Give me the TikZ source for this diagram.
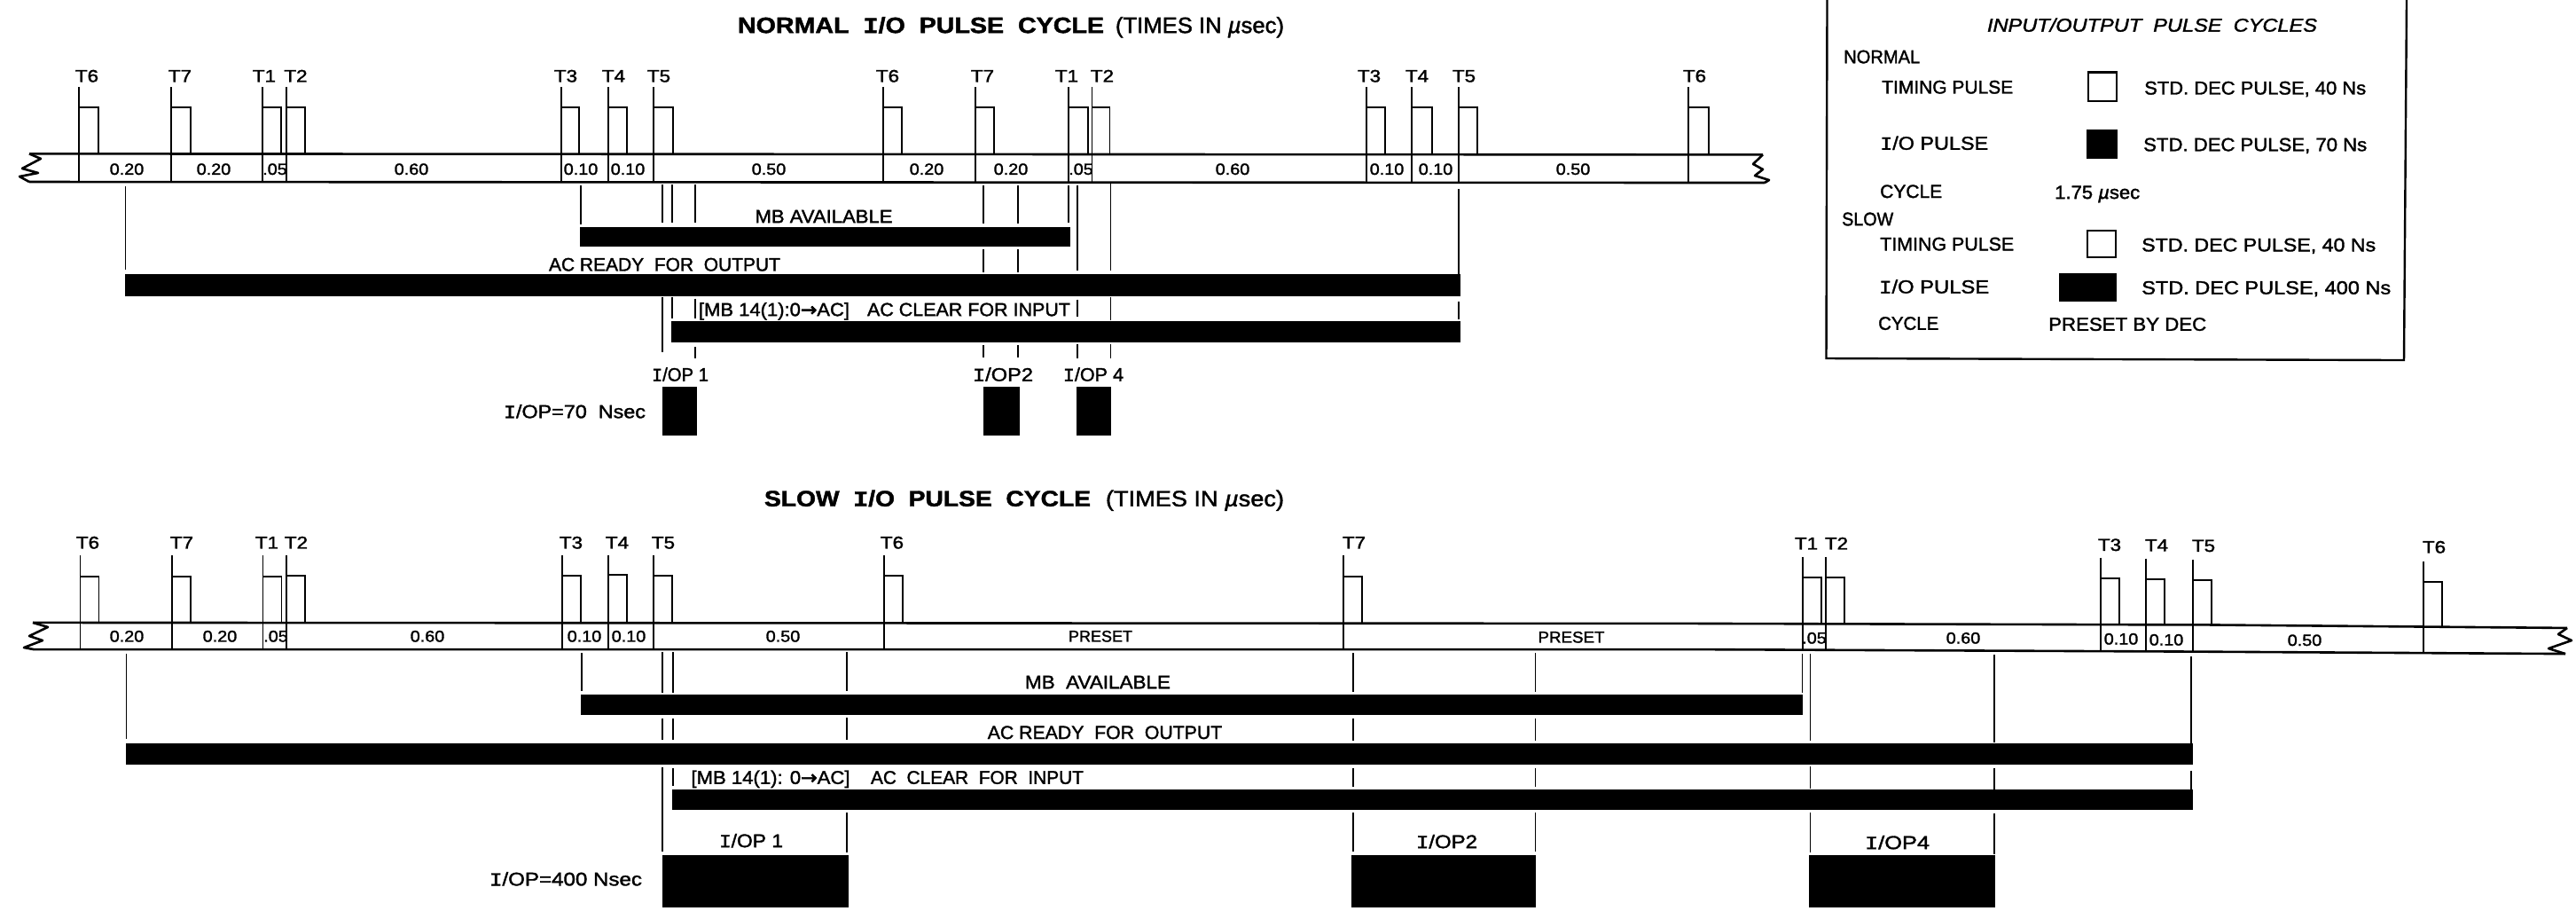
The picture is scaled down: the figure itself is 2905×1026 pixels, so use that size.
\documentclass[tikz,border=0pt]{standalone}
\usepackage{fontspec}
\usepackage{graphicx}
\setmainfont[FakeBold=1.6]{Liberation Sans}
\newfontfamily\ifam[FakeBold=1.6]{Liberation Mono}
\newfontfamily\arrfam[FakeBold=3]{DejaVu Sans}
\newcommand\II{{\ifam I}}
\newcommand\Arr{{\arrfam →}}
\newsavebox\wtbox
\newcommand\wt[2]{\sbox\wtbox{#2}\pgfmathsetmacro\wtsc{#1/\the\wd\wtbox}\scalebox{\wtsc}[1]{\usebox\wtbox}}
\newcommand\pulse[6]{% x, ticktop, pulsetop, pulse bottom, tick bottom, width
  \draw[tick] (#1,#2) -- (#1,#5);
  \draw[tick] (#1,#4) -- (#1,#3) -- ++(#6,0) -- (#1+#6,#4);
  \draw[ptop] (#1,#3) -- ++(#6,0);
}
\tikzset{
  tick/.style={line width=1.7pt,draw=black},
  ptop/.style={line width=2.2pt,draw=black},
  band/.style={line width=2.6pt,draw=black,line join=round},
  frame/.style={line width=2.4pt,draw=black,line join=miter},
  solid bar/.style={fill=black,draw=none},
  tl/.style={inner sep=0pt,text height=14pt,text depth=0pt,font=\fontsize{19.5}{20}\selectfont},
  nl/.style={inner sep=0pt,text height=13pt,text depth=0pt,font=\fontsize{18}{20}\selectfont},
  ll/.style={inner sep=0pt,text height=15pt,text depth=0pt,font=\fontsize{21}{22}\selectfont},
  ti/.style={inner sep=0pt,text height=18pt,text depth=0pt,font=\fontsize{25}{26}\selectfont\bfseries},
  tb/.style={inner sep=0pt,text height=18pt,text depth=0pt,font=\fontsize{25}{26}\selectfont},
}
\begin{document}
\begin{tikzpicture}[x=1pt,y=-1.005pt]
\useasboundingbox (0pt,0pt) rectangle (2905pt,-1026pt);
\fill[white] (0pt,0pt) rectangle (2905pt,-1026pt);

%% ---------- NORMAL ----------
\node[ti] (ntitle) at (1038.5,28) {\wt{413}{NORMAL\ \ \II/O\ \ PULSE\ \ CYCLE}};
\node[tb] (ntimes) at (1353,28) {\wt{190}{(TIMES IN {\itshape µ}sec)}};

\draw[band] (33,172.5) -- (1988,173.5);
\draw[band] (33,204) -- (1990,205);
\draw[band] (33,172.5) -- (46,178) -- (25,189) -- (43,194) -- (22,198) -- (33,204);
\draw[band] (1988,173.5) -- (1977,184) -- (1988,190) -- (1979,197) -- (1995,202) -- (1990,205);

\foreach \x/\w in {89/22,193/22,296/21,323/21,633/20,686/21,737/22,996/21,1100/21,1205/22,1231.5/20,1541/21,1592/23,1645/21,1904/23}{
  \pulse{\x}{98}{120}{173}{204}{\w}
}
\foreach \n/\x/\t in {a/98/T6,b/203/T7,c/298/T1,d/333.5/T2,e/638/T3,f/692/T4,g/743/T5,h/1001/T6,i/1108/T7,j/1203/T1,k/1243/T2,l/1544/T3,m/1598/T4,o/1651/T5,p/1911/T6}{
  \node[tl] (nt\n) at (\x,85) {\scalebox{1.15}[1]{\t}};
}
\foreach \n/\x/\t in {a/143/0.20,b/241/0.20,c/310/.05,d/464/0.60,e/655/0.10,f/708/0.10,g/867/0.50,h/1045/0.20,i/1140/0.20,j/1219/.05,k/1390/0.60,l/1564/0.10,m/1619/0.10,o/1774/0.50}{
  \node[nl] (nn\n) at (\x,189.5) {\scalebox{1.1}[1]{\t}};
}

% bars
\fill[solid bar] (654,255) rectangle (1207,277);
\fill[solid bar] (141,307) rectangle (1647,332);
\fill[solid bar] (757,360) rectangle (1647,384);
\fill[solid bar] (747,434) rectangle (786,489);
\fill[solid bar] (1109,434) rectangle (1150,489);
\fill[solid bar] (1214,434) rectangle (1253,489);

% verticals
\foreach \x/\a/\b in {
 141.5/209/302, 655/208/252, 747/207/250, 758/207/250, 784/207/250,
 1109/208/251, 1148/208/251, 1205/208/250, 1215/208/303, 1252.5/206/303, 1645/212/307,
 1109/280/305, 1148/280/305,
 747/333/395, 758/333/357.5, 784/335/357.5, 1215/336/355.5, 1252.5/333/359, 1645/338/358,
 784/389/402, 1109/387/400.5, 1148/387/400.5, 1215/386/402, 1252.5/386/402}{
  \draw[tick] (\x,\a) -- (\x,\b);
}

\node[ll] (nmb) at (929,242.5) {\wt{155}{MB AVAILABLE}};
\node[ll] (nac) at (749.5,296.5) {\wt{261}{AC READY\ \ FOR\ \ OUTPUT}};
\node[ll] (nmbx) at (873,347) {\wt{170}{[MB 14(1):0\Arr AC]}};
\node[ll] (ncl) at (1092.5,347) {\wt{229}{AC CLEAR FOR INPUT}};
\node[ll] (niop1) at (767,420) {\wt{64}{\II/OP 1}};
\node[ll] (niop2) at (1131,420) {\wt{68}{\II/OP2}};
\node[ll] (niop4) at (1233,420) {\wt{68}{\II/OP 4}};
\node[ll] (nioeq) at (648,461.5) {\wt{160}{\II/OP=70\ \ Nsec}};

%% ---------- LEGEND ----------
\draw[frame] (2060.5,0) -- (2059.5,402) -- (2711,404) -- (2714,0);
\node[ll,font=\fontsize{21}{22}\selectfont\itshape] (lgt) at (2427,28) {\wt{372}{INPUT/OUTPUT\ \ PULSE\ \ CYCLES}};
\node[ll,anchor=west] (lnorm) at (2079,63.5) {\wt{86}{NORMAL}};
\node[ll,anchor=west] (ltp1) at (2122,97.5) {\wt{148}{TIMING PULSE}};
\node[ll,anchor=west] (lio1) at (2120,160.5) {\wt{122}{\II/O PULSE}};
\node[ll,anchor=west] (lcy1) at (2120,214.5) {\wt{70}{CYCLE}};
\node[ll,anchor=west] (lslow) at (2077,245.5) {\wt{58}{SLOW}};
\node[ll,anchor=west] (ltp2) at (2120,273.5) {\wt{151}{TIMING PULSE}};
\node[ll,anchor=west] (lio2) at (2119,321.5) {\wt{124}{\II/O PULSE}};
\node[ll,anchor=west] (lcy2) at (2118,362.5) {\wt{68}{CYCLE}};
\node[ll,anchor=west] (ls1) at (2418,98.5) {\wt{250}{STD. DEC PULSE, 40 Ns}};
\node[ll,anchor=west] (ls2) at (2417,162) {\wt{252}{STD. DEC PULSE, 70 Ns}};
\node[ll,anchor=west] (lv) at (2317,215.5) {\wt{96}{1.75 {\itshape µ}sec}};
\node[ll,anchor=west] (ls3) at (2415,274.5) {\wt{264}{STD. DEC PULSE, 40 Ns}};
\node[ll,anchor=west] (ls4) at (2415,322.5) {\wt{281}{STD. DEC PULSE, 400 Ns}};
\node[ll,anchor=west] (lp) at (2310,363.5) {\wt{178}{PRESET BY DEC}};
\draw[line width=2.2pt] (2355,81) rectangle (2387,113.5);
\fill[solid bar] (2353,145) rectangle (2388,178);
\draw[line width=2.2pt] (2354,259) rectangle (2386,288.5);
\fill[solid bar] (2322,306) rectangle (2387,338);

%% ---------- SLOW ----------
\begin{scope}[yshift=2.6pt]
\node[ti] (stitle) at (1046,561.5) {\wt{368}{SLOW\ \ \II/O\ \ PULSE\ \ CYCLE}};
\node[tb] (stimes) at (1347.5,561.5) {\wt{201}{(TIMES IN {\itshape µ}sec)}};

\draw[band] (37,701) -- (1905,702) -- (2490,703.5) -- (2895,707);
\draw[band] (38,731) -- (1905,731) -- (2470,733.5) -- (2893,736);
\draw[band] (37,701) -- (54,706) -- (33,716) -- (48,721) -- (27,729) -- (38,731);
\draw[band] (2895,707) -- (2885,714) -- (2900,721) -- (2874,730) -- (2893,736);

\foreach \x/\tp/\pt/\bt/\bb in {90.5/625.5/649/701/731,194/625.5/649/701/731,296.5/625.5/649/701/731,323/625.5/648/701/731,634/625/648/701/731,686/625/647/701/731,737/625/648/701/731,997/625/648/701/731,1515/625/649/702/731,2033/627/650/702/731,2059/627/650/702/731,2369/628/651.5/703/733,2420/629/652.5/703/733,2473/630/653/703/734,2733/632/655/705/735}{
  \pulse{\x}{\tp}{\pt}{\bt}{\bb}{21}
}
\foreach \n/\x/\y/\t in {a/99/611/T6,b/205/611/T7,c/301/611/T1,d/334/611/T2,e/644/611/T3,f/696/611/T4,g/748/611/T5,h/1006/611/T6,i/1527/611/T7,j/2037/612/T1,k/2071/612/T2,l/2379/613.5/T3,m/2432/614/T4,o/2485/614.5/T5,p/2745/616/T6}{
  \node[tl] (st\n) at (\x,\y) {\scalebox{1.15}[1]{\t}};
}
\foreach \n/\x/\y/\t in {a/143/716/0.20,b/248/716/0.20,c/311/716/.05,d/482/716/0.60,e/659/716/0.10,f/709/716/0.10,g/883/716/0.50,j/2046/718/.05,k/2214/718/0.60,l/2392/719/0.10,m/2443/720/0.10,o/2599/720.5/0.50}{
  \node[nl] (sn\n) at (\x,\y) {\scalebox{1.1}[1]{\t}};
}
\node[nl] (snh) at (1241,716) {\wt{72}{PRESET}};
\node[nl] (sni) at (1772,717) {\wt{75}{PRESET}};

\fill[solid bar] (655,782) rectangle (2033,805);
\fill[solid bar] (142,836) rectangle (2473,860);
\fill[solid bar] (758,888) rectangle (2473,911);
\fill[solid bar] (747,961.5) rectangle (957,1020);
\fill[solid bar] (1524,961.5) rectangle (1732,1020);
\fill[solid bar] (2040,961.5) rectangle (2250,1020);

\foreach \x/\a/\b in {
 142.5/736/831, 656/735/778,
 747/734/780, 747/809/832, 747/863/958,
 759/734/780, 759/809/832, 759/864/884,
 955/734/778, 955/808/832, 955/914/958.5,
 1526/735/779, 1526/808.5/833, 1526/864/885, 1526/914/958,
 1731.5/735/779, 1731.5/808.5/833, 1731.5/864/885, 1731.5/914/958,
 2032.5/736/780,
 2041.5/736/833, 2041.5/862.5/887.5, 2041.5/914/959,
 2249/737/835, 2249/864/889, 2249/915/961,
 2471/739/836, 2471/867/889}{
  \draw[tick] (\x,\a) -- (\x,\b);
}

\node[ll] (smb) at (1238,767.5) {\wt{164}{MB\ \ AVAILABLE}};
\node[ll] (sac) at (1246,824) {\wt{264.5}{AC READY\ \ FOR\ \ OUTPUT}};
\node[ll] (smbx) at (869,874.5) {\wt{179}{[MB 14(1): 0\Arr AC]}};
\node[ll] (scl) at (1102,874.5) {\wt{240}{AC\ \ CLEAR\ \ FOR\ \ INPUT}};
\node[ll] (siop1) at (847,945.5) {\wt{72}{\II/OP 1}};
\node[ll] (siop2) at (1631.5,946.5) {\wt{69}{\II/OP2}};
\node[ll] (siop4) at (2139.5,947.5) {\wt{73}{\II/OP4}};
\node[ll] (sioeq) at (638,988.5) {\wt{172}{\II/OP=400 Nsec}};
\end{scope}
\end{tikzpicture}
\end{document}
